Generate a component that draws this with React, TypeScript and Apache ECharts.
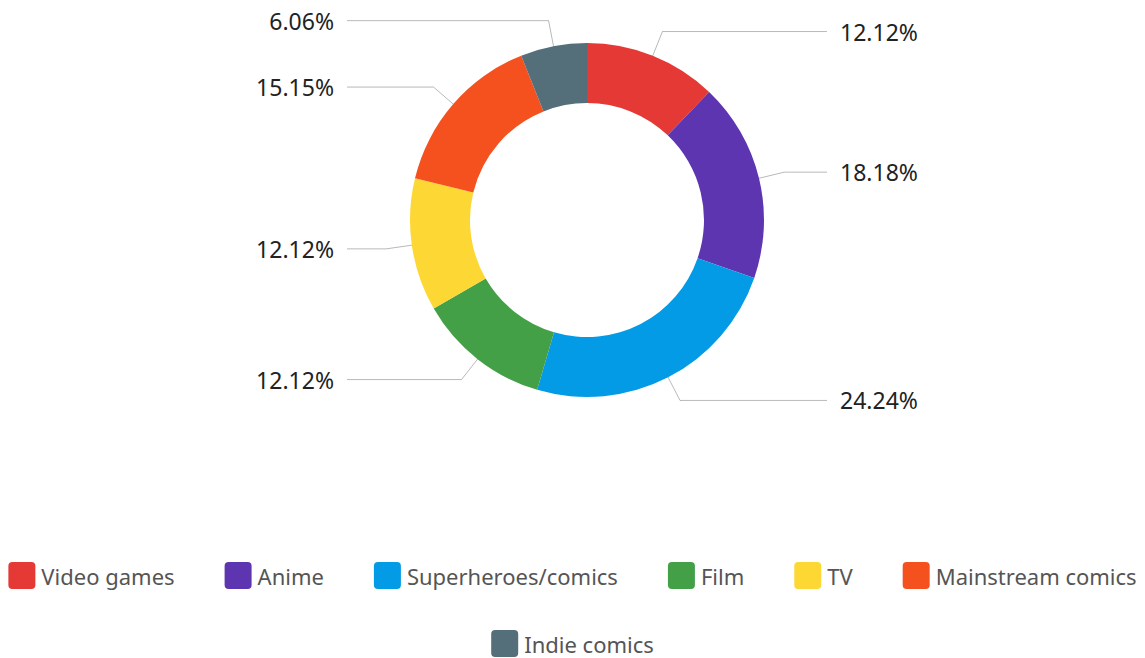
import React, { useEffect, useRef } from "react";
import * as echarts from "echarts";

const categories = [
  "Video games",
  "Anime",
  "Superheroes/comics",
  "Film",
  "TV",
  "Mainstream comics",
  "Indie comics",
];
const counts = [4, 6, 8, 4, 4, 5, 2];
const colors = ["#E53935", "#5E35B1", "#039BE5", "#43A047", "#FDD835", "#F4511E", "#546E7A"];
const legendRow1 = categories.slice(0, 6);
const legendRow2 = categories.slice(6);

const FONT = "'Noto Sans', sans-serif";
const ICON =
  "path://M4,0 H23 A4,4 0 0 1 27,4 V23 A4,4 0 0 1 23,27 H4 A4,4 0 0 1 0,23 V4 A4,4 0 0 1 4,0 Z";

const CX = 587;
const CY = 220;
const LABEL_R = 150;
const LINE_LEN = 53;
const LINE_END_RIGHT = 827;
const LINE_END_LEFT = 347;

export default function App() {
  const ref = useRef<HTMLDivElement>(null);

  useEffect(() => {
    if (!ref.current) return;
    const chart = echarts.init(ref.current, null, { renderer: "svg" });
    const total = counts.reduce((a, b) => a + b, 0);
    const data = categories.map((name, i) => ({
      name,
      value: counts[i],
      itemStyle: { color: colors[i] },
    }));
    // label line second segment so that all line ends line up per side
    let acc = 0;
    const labelData = categories.map((name, i) => {
      const mid = ((acc + counts[i] / 2) / total) * Math.PI * 2;
      acc += counts[i];
      const s = Math.sin(mid);
      const bendX = CX + (LABEL_R + LINE_LEN) * s;
      const len2 = s >= 0 ? LINE_END_RIGHT - bendX : bendX - LINE_END_LEFT;
      return { name, value: counts[i], labelLine: { length2: Math.max(4, len2) } };
    });

    const legendCommon = {
      left: "center",
      orient: "horizontal" as const,
      padding: 0,
      width: 1145,
      itemWidth: 27,
      itemHeight: 27,
      itemGap: 50,
      icon: ICON,
      selectedMode: false,
      textStyle: { fontFamily: FONT, fontSize: 22, color: "#555555", padding: [0, 0, 0, 1] },
    };

    chart.setOption({
      animation: false,
      backgroundColor: "#ffffff",
      legend: [
        { ...legendCommon, top: 562, data: legendRow1 },
        { ...legendCommon, top: 630, data: legendRow2 },
      ],
      series: [
        {
          type: "pie",
          name: "ring",
          center: [CX, CY],
          radius: [117, 177],
          startAngle: 90,
          clockwise: true,
          silent: true,
          emphasis: { disabled: true },
          itemStyle: { borderWidth: 0 },
          label: { show: false },
          labelLine: { show: false },
          data,
        },
        {
          type: "pie",
          name: "labels",
          center: [CX, CY],
          radius: [0, LABEL_R],
          startAngle: 90,
          clockwise: true,
          silent: true,
          emphasis: { disabled: true },
          avoidLabelOverlap: false,
          itemStyle: { color: "rgba(0,0,0,0)", borderWidth: 0 },
          label: {
            show: true,
            position: "outside",
            alignTo: "none",
            distanceToLabelLine: 13,
            fontFamily: FONT,
            fontSize: 23,
            color: "#222222",
            formatter: (p: any) => ((p.value / total) * 100).toFixed(2) + "%",
          },
          labelLine: {
            show: true,
            length: LINE_LEN,
            length2: 40,
            lineStyle: { color: "rgba(0,0,0,0.28)", width: 1 },
          },
          data: labelData,
        },
      ],
    });

    return () => chart.dispose();
  }, []);

  return (
    <div
      ref={ref}
      style={{ position: "absolute", left: 0, top: 0, width: 1145, height: 658 }}
    />
  );
}
